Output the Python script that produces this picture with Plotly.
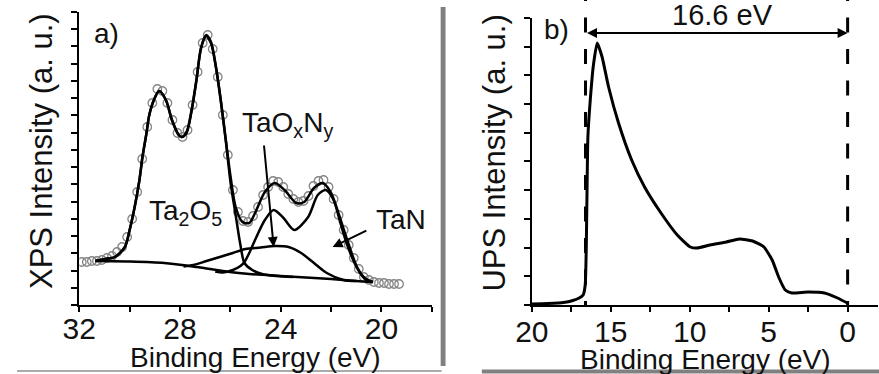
import plotly.graph_objects as go

# ---------------- data ----------------
# Panel a) XPS Ta 4f region
xps_E = [31.9, 31.7, 31.5, 31.3, 31.1, 30.9, 30.7, 30.5, 30.3, 30.1, 29.9, 29.7, 29.5, 29.3, 29.1,
         28.9, 28.7, 28.5, 28.3, 28.1, 27.9, 27.7, 27.5, 27.3, 27.1, 26.9, 26.7, 26.5, 26.3, 26.1,
         25.9, 25.7, 25.5, 25.3, 25.1, 24.9, 24.7, 24.5, 24.3, 24.1, 23.9, 23.7, 23.5, 23.3, 23.1,
         22.9, 22.7, 22.5, 22.3, 22.1, 21.9, 21.7, 21.5, 21.3, 21.1, 20.9, 20.7, 20.5, 20.3, 20.1,
         19.9, 19.7, 19.5, 19.3]
xps_counts = [43, 43, 44, 44, 45, 47, 49, 53, 58, 68, 86, 113, 146, 178, 202,
              216, 214, 202, 185, 172, 168, 175, 200, 233, 262, 270, 256, 228, 190, 150,
              115, 93, 84, 83, 89, 98, 110, 118, 124, 123, 118, 111, 106, 103, 104,
              109, 119, 124, 125, 118, 106, 90, 75, 60, 47, 36, 28, 25, 23, 22,
              22, 21, 21, 21]

fit_E = [31.36, 30.97, 30.58, 30.19, 30.00, 29.80, 29.61, 29.49, 29.33, 29.22, 29.02, 28.83, 28.56,
         28.32, 28.05, 27.93, 27.74, 27.54, 27.35, 27.16, 26.96, 26.77, 26.57, 26.38, 26.18, 25.99,
         25.79, 25.52, 25.25, 25.02, 24.63, 24.24, 23.85, 23.38, 23.07, 22.68, 22.33, 22.02, 21.71,
         21.36, 20.97, 20.66, 20.35]
fit_sum = [44, 46, 48, 58, 75, 98, 125, 148, 172, 190, 206, 214, 205,
           185, 170, 168, 173, 195, 225, 258, 270, 263, 238, 205, 165, 128,
           98, 83, 82, 92, 113, 122, 115, 102, 103, 117, 122, 113, 92,
           65, 38, 27, 23]

ta2o5_E = [31.36, 30.97, 30.58, 30.19, 30.00, 29.80, 29.61, 29.49, 29.33, 29.22, 29.02, 28.83, 28.56,
           28.32, 28.05, 27.93, 27.74, 27.54, 27.35, 27.16, 26.96, 26.77, 26.57, 26.38, 26.18, 25.99,
           25.79, 25.60, 25.44, 25.13, 24.74, 24.16, 23.5]
ta2o5_I = [44, 46, 48, 58, 75, 98, 125, 148, 172, 190, 206, 214, 205,
           185, 170, 168, 172, 194, 224, 257, 269, 262, 237, 204, 164, 122,
           90, 60, 42, 35, 31, 29, 28]

taoxny_E = [27.86, 27.47, 26.95, 26.42, 25.90, 25.40, 24.80, 24.24, 23.69, 23.19, 22.68, 22.17, 21.51, 21.0]
taoxny_I = [38.5, 40, 44, 48, 52, 56, 57.5, 59, 58, 52, 42, 32, 25, 24]

tan_E = [26.6, 26.3, 25.9, 25.6, 25.44, 25.25, 25.02, 24.63, 24.28, 23.89, 23.46, 22.91, 22.53,
         22.21, 21.90, 21.63, 21.36, 20.97, 20.66, 20.35]
tan_I = [33.5, 32.5, 35, 39, 43, 52, 65, 85, 95, 87, 75, 88, 110,
         115, 105, 82, 60, 37, 26, 23]

bg_E = [31.36, 30.0, 28.63, 27.35, 26.03, 25.25, 24.0, 23.0, 22.0, 21.0, 20.35]
bg_I = [44, 43.5, 42, 38, 33, 31, 29, 27.5, 26, 24, 23]

# Panel b) UPS spectrum
ups_E = [20.0, 19.0, 18.0, 17.4, 17.0, 16.75, 16.62, 16.55, 16.5, 16.45, 16.3, 16.1, 15.86, 15.55,
         15.14, 14.51, 13.68, 12.86, 11.82, 10.79, 9.96, 9.54, 8.71, 7.68, 6.85, 6.02, 5.3,
         4.78, 4.37, 3.95, 3.54, 2.5, 1.47, 0.64, 0.02]
ups_I = [1, 1.5, 2.5, 4.5, 7, 10, 20, 60, 120, 168, 205, 240, 262, 248,
         218, 182, 145, 118, 92, 70, 58, 57, 60, 63, 66, 64, 58,
         45, 28, 15, 12, 13, 12, 7, 2]

cutoff_E = 16.6
fermi_E = 0.0
width_label = "16.6 eV"

# ---------------- figure ----------------
W, H = 879, 374
FONT = "Liberation Sans, Arial, sans-serif"


def px(x):
    return x / W


def py(y):
    return 1 - y / H


fig = go.Figure()

fig.add_trace(go.Scatter(x=xps_E, y=xps_counts, mode="markers",
                         marker=dict(symbol="circle-open", size=8.5, color="#858585",
                                     line=dict(width=1.3)),
                         xaxis="x", yaxis="y", hoverinfo="skip"))
for xs, ys in [(bg_E, bg_I), (ta2o5_E, ta2o5_I), (taoxny_E, taoxny_I), (tan_E, tan_I), (fit_E, fit_sum)]:
    fig.add_trace(go.Scatter(x=xs, y=ys, mode="lines",
                             line=dict(color="black", width=2.5, shape="spline", smoothing=0.8),
                             xaxis="x", yaxis="y", hoverinfo="skip"))

fig.add_trace(go.Scatter(x=ups_E, y=ups_I, mode="lines",
                         line=dict(color="black", width=3, shape="spline", smoothing=0.5),
                         xaxis="x2", yaxis="y2", hoverinfo="skip"))

tickfont = dict(family=FONT, size=30, color="#111")
axis_common = dict(showline=True, linecolor="black", linewidth=2, ticks="outside",
                   tickcolor="black", showgrid=False, zeroline=False, mirror=False,
                   tickfont=tickfont)

fig.update_layout(
    width=W, height=H, margin=dict(l=0, r=0, t=0, b=0),
    paper_bgcolor="white", plot_bgcolor="white", showlegend=False,
    xaxis=dict(domain=[px(63.5), px(423)], range=[32, 18], anchor="y",
               tick0=0, dtick=4, ticklen=5, tickwidth=2, ticklabelstandoff=-9,
               minor=dict(dtick=2, ticklen=5, tickwidth=2, tickcolor="black", ticks="outside"),
               **axis_common),
    yaxis=dict(domain=[py(305), py(11.5)], range=[0, 293.5], anchor="x",
               tick0=0, dtick=17.25, ticklen=6, tickwidth=1.5, showticklabels=False,
               **axis_common),
    xaxis2=dict(domain=[px(525), px(878)], range=[20, -1.925], anchor="y2",
                tick0=0, dtick=5, ticklen=5, tickwidth=2, ticklabelstandoff=-6,
                minor=dict(dtick=2.5, ticklen=5, tickwidth=2, tickcolor="black", ticks="outside"),
                **axis_common),
    yaxis2=dict(domain=[py(305), py(17.5)], range=[0, 287.5], anchor="x2",
                tick0=0, dtick=28.72, ticklen=6, tickwidth=1.5, showticklabels=False,
                **axis_common),
)

ann = []


def txt(x, y, s, size, angle=0):
    ann.append(dict(x=px(x), y=py(y), xref="paper", yref="paper", text=s, showarrow=False,
                    font=dict(family=FONT, size=size, color="#111"), textangle=angle,
                    xanchor="center", yanchor="middle"))


txt(24.5, 151, "XPS Intensity (a. u.)", 31, -90)
txt(486, 153, "UPS Intensity (a. u.)", 31, -90)
txt(243, 357, "Binding Energy (eV)", 28)
txt(702, 359, "Binding Energy (eV)", 28)
txt(91, 33, "a)", 28)
txt(550, 30, "b)", 28)
txt(276, 124, "TaO<sub>x</sub>N<sub>y</sub>", 28)
txt(171.5, 212, "Ta<sub>2</sub>O<sub>5</sub>", 28)
txt(391.5, 219, "TaN", 28)
txt(719, 15, width_label, 29)

# arrows in panel a)
ann.append(dict(x=24.28, y=58, ax=24.67, ay=161, xref="x", yref="y", axref="x", ayref="y",
                text="", showarrow=True, arrowhead=2, arrowsize=1, arrowwidth=2, arrowcolor="black"))
ann.append(dict(x=21.94, y=58, ax=20.54, ay=75, xref="x", yref="y", axref="x", ayref="y",
                text="", showarrow=True, arrowhead=2, arrowsize=1, arrowwidth=2, arrowcolor="black"))
# double arrow in panel b)
ann.append(dict(x=fermi_E, y=272, ax=cutoff_E, ay=272, xref="x2", yref="y2", axref="x2", ayref="y2",
                text="", showarrow=True, arrowhead=2, startarrowhead=2, arrowside="end+start",
                arrowsize=1, startarrowsize=1, arrowwidth=2, arrowcolor="black"))
fig.update_layout(annotations=ann)

shapes = []
for e in (cutoff_E, fermi_E):
    shapes.append(dict(type="line", xref="x2", yref="paper", x0=e, x1=e, y0=py(-14), y1=py(305),
                       line=dict(color="black", width=3, dash="15px,16.5px")))
# gray frame pieces of the original figure
shapes.append(dict(type="rect", xref="paper", yref="paper", x0=px(432), x1=px(437), y0=py(366), y1=py(7),
                   fillcolor="#808080", line=dict(width=0)))
shapes.append(dict(type="line", xref="paper", yref="paper", x0=px(0), x1=px(433), y0=py(371), y1=py(371),
                   line=dict(color="#8f8f8f", width=1.5)))
shapes.append(dict(type="rect", xref="paper", yref="paper", x0=px(474), x1=px(879), y0=py(373.5), y1=py(369.5),
                   fillcolor="#808080", line=dict(width=0)))
fig.update_layout(shapes=shapes)

fig.write_html("out.html")
